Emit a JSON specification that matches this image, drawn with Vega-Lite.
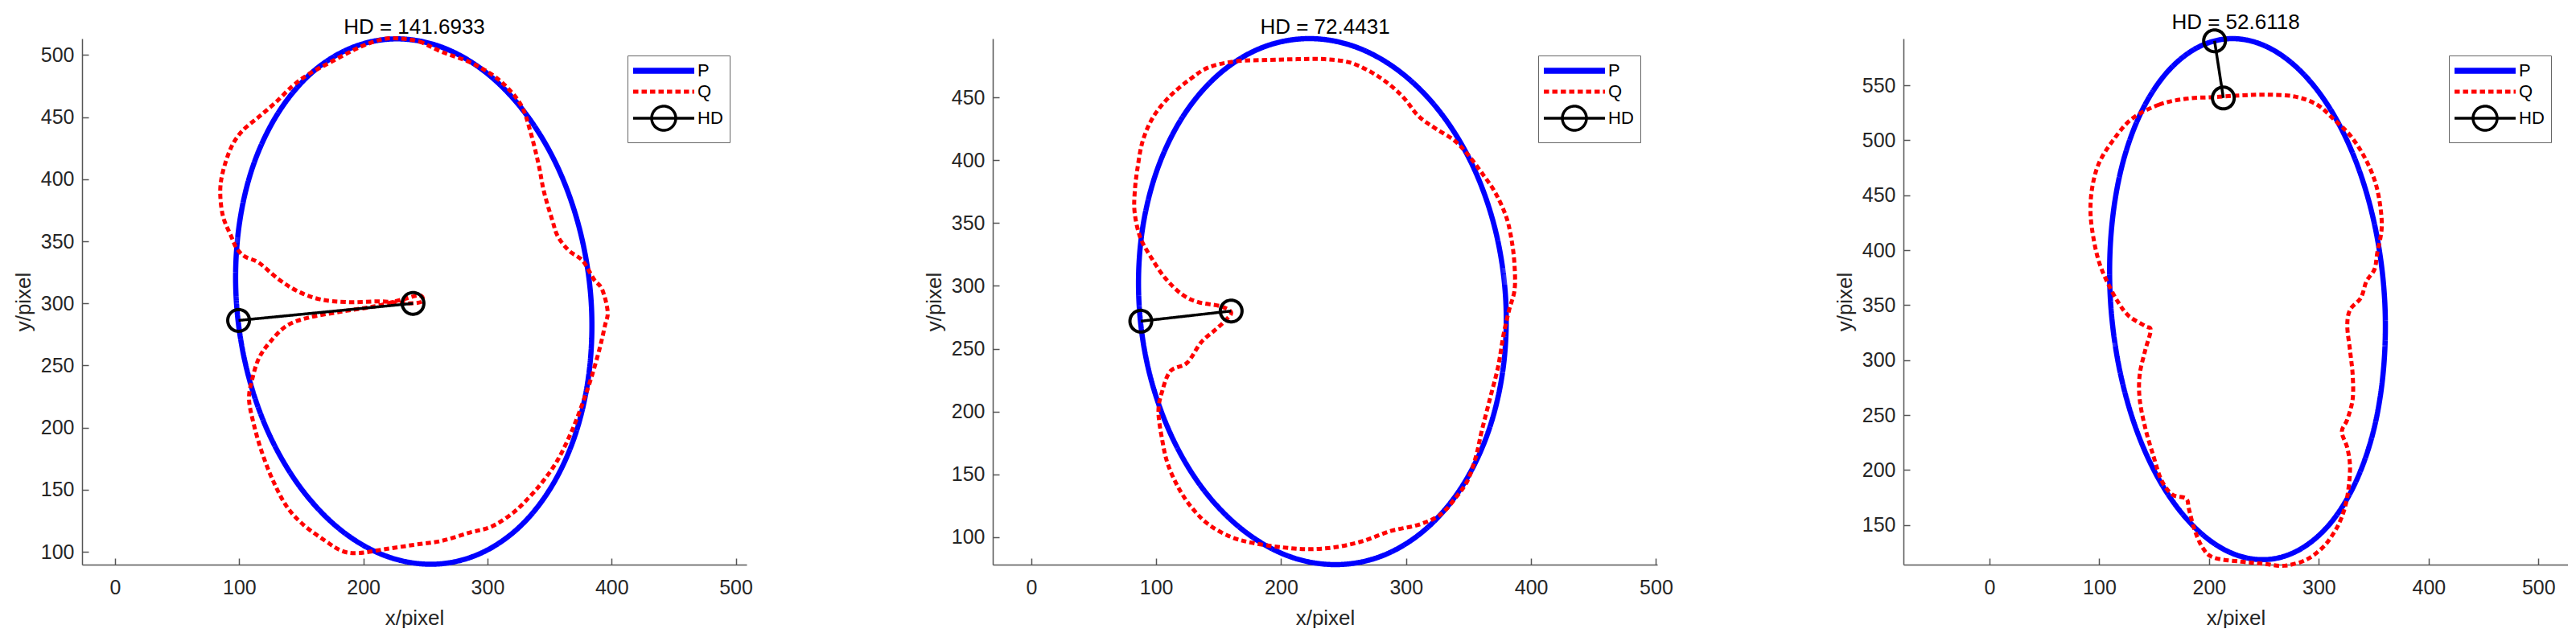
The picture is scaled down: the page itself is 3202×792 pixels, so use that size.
{
"$schema": "https://vega.github.io/schema/vega-lite/v6.json",
"padding": {"left": 16, "top": 15, "right": 0, "bottom": 0},
"bounds": "flush",
"spacing": 306,
"datasets": {
"p1": [
{"s":"P","i":0,"x":383.5,"y":301.5},{"s":"P","i":1,"x":375.1,"y":356.2},{"s":"P","i":2,"x":357.6,"y":407.3},{"s":"P","i":3,"x":332.0,"y":451.1},{"s":"P","i":4,"x":300.3,"y":484.7},{"s":"P","i":5,"x":264.5,"y":505.8},{"s":"P","i":6,"x":227.0,"y":513.0},{"s":"P","i":7,"x":190.5,"y":505.8},{"s":"P","i":8,"x":157.3,"y":484.7},{"s":"P","i":9,"x":130.0,"y":451.1},{"s":"P","i":10,"x":110.0,"y":407.3},{"s":"P","i":11,"x":99.1,"y":356.2},{"s":"P","i":12,"x":97.7,"y":301.5},{"s":"P","i":13,"x":106.1,"y":246.8},{"s":"P","i":14,"x":123.6,"y":195.8},{"s":"P","i":15,"x":149.2,"y":151.9},{"s":"P","i":16,"x":180.9,"y":118.3},{"s":"P","i":17,"x":216.7,"y":97.2},{"s":"P","i":18,"x":254.2,"y":90.0},{"s":"P","i":19,"x":290.7,"y":97.2},{"s":"P","i":20,"x":323.9,"y":118.3},{"s":"P","i":21,"x":351.2,"y":151.9},{"s":"P","i":22,"x":371.2,"y":195.8},{"s":"P","i":23,"x":382.1,"y":246.8},
{"s":"Q","i":1,"x":227.4,"y":513.4},{"s":"Q","i":2,"x":245,"y":510.8},{"s":"Q","i":3,"x":263,"y":502.6},{"s":"Q","i":4,"x":285.3,"y":494.4},{"s":"Q","i":5,"x":303,"y":484.6},{"s":"Q","i":6,"x":316.5,"y":473.2},{"s":"Q","i":7,"x":327.7,"y":458.5},{"s":"Q","i":8,"x":334.4,"y":438.9},{"s":"Q","i":9,"x":341,"y":412.7},{"s":"Q","i":10,"x":345.5,"y":389.9},{"s":"Q","i":11,"x":352.2,"y":367},{"s":"Q","i":12,"x":356.7,"y":353.9},{"s":"Q","i":13,"x":365.6,"y":342.5},{"s":"Q","i":14,"x":376.7,"y":334.3},{"s":"Q","i":15,"x":385.6,"y":319.6},{"s":"Q","i":16,"x":392.3,"y":311.4},{"s":"Q","i":17,"x":396.8,"y":293.5},{"s":"Q","i":18,"x":394.6,"y":282},{"s":"Q","i":19,"x":390,"y":262.4},{"s":"Q","i":20,"x":383.4,"y":239.5},{"s":"Q","i":21,"x":376.7,"y":219.9},{"s":"Q","i":22,"x":367.8,"y":197},{"s":"Q","i":23,"x":356.7,"y":174.2},{"s":"Q","i":24,"x":345.5,"y":157.8},{"s":"Q","i":25,"x":334.4,"y":144.8},{"s":"Q","i":26,"x":321,"y":131.7},{"s":"Q","i":27,"x":303.2,"y":120.3},{"s":"Q","i":28,"x":285.3,"y":115.4},{"s":"Q","i":29,"x":263,"y":108.8},{"s":"Q","i":30,"x":240.7,"y":105.6},{"s":"Q","i":31,"x":218.5,"y":102.3},{"s":"Q","i":32,"x":196.2,"y":99},{"s":"Q","i":33,"x":182.8,"y":100.7},{"s":"Q","i":34,"x":169.4,"y":108.8},{"s":"Q","i":35,"x":151.6,"y":121.9},{"s":"Q","i":36,"x":138.2,"y":136.6},{"s":"Q","i":37,"x":127,"y":157.8},{"s":"Q","i":38,"x":118.1,"y":180.7},{"s":"Q","i":39,"x":111.5,"y":203.6},{"s":"Q","i":40,"x":107.9,"y":223.2},{"s":"Q","i":41,"x":110.6,"y":239.5},{"s":"Q","i":42,"x":115.9,"y":255.9},{"s":"Q","i":43,"x":124.8,"y":268.9},{"s":"Q","i":44,"x":138.2,"y":282},{"s":"Q","i":45,"x":156,"y":288.6},{"s":"Q","i":46,"x":182.8,"y":293.5},{"s":"Q","i":47,"x":209.5,"y":297.7},{"s":"Q","i":48,"x":231.8,"y":303.3},{"s":"Q","i":49,"x":245.2,"y":306.5},{"s":"Q","i":50,"x":247.4,"y":301.6},{"s":"Q","i":51,"x":236.3,"y":300},{"s":"Q","i":52,"x":214,"y":301.6},{"s":"Q","i":53,"x":187.3,"y":301},{"s":"Q","i":54,"x":165,"y":303.3},{"s":"Q","i":55,"x":147.1,"y":309.8},{"s":"Q","i":56,"x":131.5,"y":319.6},{"s":"Q","i":57,"x":115.9,"y":332.7},{"s":"Q","i":58,"x":104.8,"y":337.6},{"s":"Q","i":59,"x":98.1,"y":344.1},{"s":"Q","i":60,"x":93.6,"y":353.9},{"s":"Q","i":61,"x":86.9,"y":370.3},{"s":"Q","i":62,"x":84.7,"y":389.9},{"s":"Q","i":63,"x":86.9,"y":406.2},{"s":"Q","i":64,"x":93.6,"y":425.8},{"s":"Q","i":65,"x":102.5,"y":438.9},{"s":"Q","i":66,"x":115.9,"y":450.3},{"s":"Q","i":67,"x":129.3,"y":461.8},{"s":"Q","i":68,"x":142.7,"y":474.8},{"s":"Q","i":69,"x":156,"y":484.6},{"s":"Q","i":70,"x":173.9,"y":494.4},{"s":"Q","i":71,"x":196.2,"y":505.9},{"s":"Q","i":72,"x":214,"y":512.4},
{"s":"HD","i":0,"x":99.5,"y":286.3},{"s":"HD","i":1,"x":240,"y":300}
],
"p2": [
{"s":"P","i":0,"x":379.8,"y":287.5},{"s":"P","i":1,"x":372.1,"y":341.7},{"s":"P","i":2,"x":354.9,"y":392.3},{"s":"P","i":3,"x":329.4,"y":435.6},{"s":"P","i":4,"x":297.3,"y":468.9},{"s":"P","i":5,"x":260.9,"y":489.9},{"s":"P","i":6,"x":222.5,"y":497},{"s":"P","i":7,"x":184.9,"y":489.9},{"s":"P","i":8,"x":150.5,"y":468.9},{"s":"P","i":9,"x":121.8,"y":435.6},{"s":"P","i":10,"x":100.7,"y":392.3},{"s":"P","i":11,"x":88.5,"y":341.7},{"s":"P","i":12,"x":86.2,"y":287.5},{"s":"P","i":13,"x":93.9,"y":233.3},{"s":"P","i":14,"x":111.2,"y":182.8},{"s":"P","i":15,"x":136.6,"y":139.4},{"s":"P","i":16,"x":168.7,"y":106.1},{"s":"P","i":17,"x":205.1,"y":85.1},{"s":"P","i":18,"x":243.5,"y":78},{"s":"P","i":19,"x":281.1,"y":85.1},{"s":"P","i":20,"x":315.5,"y":106.1},{"s":"P","i":21,"x":344.2,"y":139.4},{"s":"P","i":22,"x":365.4,"y":182.8},{"s":"P","i":23,"x":377.5,"y":233.3},
{"s":"Q","i":1,"x":142.3,"y":474.2},{"s":"Q","i":2,"x":164.3,"y":479},{"s":"Q","i":3,"x":190.7,"y":480},{"s":"Q","i":4,"x":212.8,"y":480.6},{"s":"Q","i":5,"x":234.8,"y":480.6},{"s":"Q","i":6,"x":256.8,"y":477.4},{"s":"Q","i":7,"x":278.9,"y":466.1},{"s":"Q","i":8,"x":296.5,"y":451.6},{"s":"Q","i":9,"x":309.7,"y":435.5},{"s":"Q","i":10,"x":322.9,"y":425.8},{"s":"Q","i":11,"x":338.3,"y":416.1},{"s":"Q","i":12,"x":349.3,"y":404.8},{"s":"Q","i":13,"x":360.4,"y":390.3},{"s":"Q","i":14,"x":371.4,"y":374.2},{"s":"Q","i":15,"x":380.2,"y":354.8},{"s":"Q","i":16,"x":384.6,"y":335.5},{"s":"Q","i":17,"x":386.8,"y":316.1},{"s":"Q","i":18,"x":386.8,"y":296.8},{"s":"Q","i":19,"x":382.4,"y":280.6},{"s":"Q","i":20,"x":378,"y":261.3},{"s":"Q","i":21,"x":373.6,"y":235.5},{"s":"Q","i":22,"x":367,"y":209.7},{"s":"Q","i":23,"x":360.4,"y":183.9},{"s":"Q","i":24,"x":356,"y":164.5},{"s":"Q","i":25,"x":349.3,"y":145.2},{"s":"Q","i":26,"x":340.5,"y":132.3},{"s":"Q","i":27,"x":327.3,"y":117.7},{"s":"Q","i":28,"x":309.7,"y":109.7},{"s":"Q","i":29,"x":287.7,"y":104.8},{"s":"Q","i":30,"x":265.6,"y":96.8},{"s":"Q","i":31,"x":243.6,"y":91.9},{"s":"Q","i":32,"x":221.6,"y":90.3},{"s":"Q","i":33,"x":199.6,"y":91.9},{"s":"Q","i":34,"x":177.5,"y":95.2},{"s":"Q","i":35,"x":159.9,"y":100},{"s":"Q","i":36,"x":142.3,"y":109.7},{"s":"Q","i":37,"x":129.1,"y":122.6},{"s":"Q","i":38,"x":118.1,"y":138.7},{"s":"Q","i":39,"x":109.3,"y":158.1},{"s":"Q","i":40,"x":104.8,"y":177.4},{"s":"Q","i":41,"x":101.8,"y":200},{"s":"Q","i":42,"x":104.8,"y":216.1},{"s":"Q","i":43,"x":111.5,"y":232.3},{"s":"Q","i":44,"x":124.7,"y":238.7},{"s":"Q","i":45,"x":135.7,"y":254.8},{"s":"Q","i":46,"x":146.7,"y":264.5},{"s":"Q","i":47,"x":155.5,"y":272.6},{"s":"Q","i":48,"x":159.9,"y":279},{"s":"Q","i":49,"x":151.1,"y":283.9},{"s":"Q","i":50,"x":133.5,"y":287.1},{"s":"Q","i":51,"x":120.3,"y":293.5},{"s":"Q","i":52,"x":107,"y":306.5},{"s":"Q","i":53,"x":96,"y":322.6},{"s":"Q","i":54,"x":87.2,"y":338.7},{"s":"Q","i":55,"x":82.8,"y":358.1},{"s":"Q","i":56,"x":82.8,"y":374.2},{"s":"Q","i":57,"x":85,"y":393.5},{"s":"Q","i":58,"x":89.4,"y":416.1},{"s":"Q","i":59,"x":98.2,"y":435.5},{"s":"Q","i":60,"x":111.5,"y":451.6},{"s":"Q","i":61,"x":126.9,"y":464.5},
{"s":"HD","i":0,"x":87.7,"y":271.9},{"s":"HD","i":1,"x":160,"y":280}
],
"p3": [
{"s":"P","i":0,"x":359.9,"y":355.5},{"s":"P","i":1,"x":352.1,"y":416.8},{"s":"P","i":2,"x":336.3,"y":474},{"s":"P","i":3,"x":313.6,"y":523.1},{"s":"P","i":4,"x":285.6,"y":560.7},{"s":"P","i":5,"x":254.1,"y":584.4},{"s":"P","i":6,"x":221.3,"y":592.5},{"s":"P","i":7,"x":189.5,"y":584.4},{"s":"P","i":8,"x":160.7,"y":560.7},{"s":"P","i":9,"x":137,"y":523.1},{"s":"P","i":10,"x":120,"y":474},{"s":"P","i":11,"x":110.9,"y":416.8},{"s":"P","i":12,"x":110.1,"y":355.5},{"s":"P","i":13,"x":117.9,"y":294.2},{"s":"P","i":14,"x":133.7,"y":237},{"s":"P","i":15,"x":156.4,"y":187.9},{"s":"P","i":16,"x":184.5,"y":150.3},{"s":"P","i":17,"x":215.9,"y":126.6},{"s":"P","i":18,"x":248.7,"y":118.5},{"s":"P","i":19,"x":280.5,"y":126.6},{"s":"P","i":20,"x":309.4,"y":150.3},{"s":"P","i":21,"x":333,"y":187.9},{"s":"P","i":22,"x":350.1,"y":237},{"s":"P","i":23,"x":359.1,"y":294.2},
{"s":"Q","i":1,"x":129.4,"y":519.3},{"s":"Q","i":2,"x":154.2,"y":532.3},{"s":"Q","i":3,"x":179.1,"y":537.8},{"s":"Q","i":4,"x":204,"y":539.3},{"s":"Q","i":5,"x":228.9,"y":540.8},{"s":"Q","i":6,"x":253.7,"y":541.5},{"s":"Q","i":7,"x":278.6,"y":539.7},{"s":"Q","i":8,"x":298.5,"y":532.3},{"s":"Q","i":9,"x":313.4,"y":519.3},{"s":"Q","i":10,"x":328.4,"y":504.6},{"s":"Q","i":11,"x":340.8,"y":486.1},{"s":"Q","i":12,"x":350.7,"y":464},{"s":"Q","i":13,"x":355.7,"y":441.8},{"s":"Q","i":14,"x":357.2,"y":419.6},{"s":"Q","i":15,"x":353.2,"y":397.5},{"s":"Q","i":16,"x":350.7,"y":382.7},{"s":"Q","i":17,"x":343.3,"y":371.6},{"s":"Q","i":18,"x":338.3,"y":356.8},{"s":"Q","i":19,"x":328.4,"y":345.7},{"s":"Q","i":20,"x":325.9,"y":331},{"s":"Q","i":21,"x":328.4,"y":308.8},{"s":"Q","i":22,"x":330.8,"y":286.7},{"s":"Q","i":23,"x":330.8,"y":264.5},{"s":"Q","i":24,"x":325.9,"y":246},{"s":"Q","i":25,"x":320.9,"y":234.9},{"s":"Q","i":26,"x":325.9,"y":220.2},{"s":"Q","i":27,"x":328.4,"y":201.7},{"s":"Q","i":28,"x":325.9,"y":175.8},{"s":"Q","i":29,"x":320.9,"y":157.3},{"s":"Q","i":30,"x":313.4,"y":142.5},{"s":"Q","i":31,"x":303.5,"y":129.6},{"s":"Q","i":32,"x":288.6,"y":118.5},{"s":"Q","i":33,"x":268.7,"y":113},{"s":"Q","i":34,"x":248.8,"y":114.9},{"s":"Q","i":35,"x":228.9,"y":116.7},{"s":"Q","i":36,"x":204,"y":120.4},{"s":"Q","i":37,"x":194,"y":129.6},{"s":"Q","i":38,"x":186.6,"y":146.3},{"s":"Q","i":39,"x":181.6,"y":164.8},{"s":"Q","i":40,"x":179.1,"y":174},{"s":"Q","i":41,"x":166.7,"y":177.7},{"s":"Q","i":42,"x":156.7,"y":190.6},{"s":"Q","i":43,"x":149.3,"y":212.8},{"s":"Q","i":44,"x":141.8,"y":238.6},{"s":"Q","i":45,"x":136.8,"y":264.5},{"s":"Q","i":46,"x":136.8,"y":286.7},{"s":"Q","i":47,"x":141.8,"y":308.8},{"s":"Q","i":48,"x":146.8,"y":327.3},{"s":"Q","i":49,"x":141.8,"y":331},{"s":"Q","i":50,"x":126.9,"y":340.2},{"s":"Q","i":51,"x":116.9,"y":353.2},{"s":"Q","i":52,"x":107,"y":371.6},{"s":"Q","i":53,"x":99.5,"y":390.1},{"s":"Q","i":54,"x":94.5,"y":412.2},{"s":"Q","i":55,"x":92,"y":434.4},{"s":"Q","i":56,"x":93.5,"y":456.6},{"s":"Q","i":57,"x":99.5,"y":478.7},{"s":"Q","i":58,"x":111.9,"y":499.1},
{"s":"HD","i":0,"x":205,"y":590.5},{"s":"HD","i":1,"x":213,"y":538.5}
]
},
"hconcat": [
{
"width": 826, "height": 654,
"title": "HD = 141.6933",
"encoding": {
"x": {"field": "x", "type": "quantitative", "scale": {"domain": [-26.6, 508.7], "nice": false, "zero": false}, "axis": {"values": [0,100,200,300,400,500], "title": "x/pixel"}},
"y": {"field": "y", "type": "quantitative", "scale": {"domain": [89.7, 513.2], "nice": false, "zero": false}, "axis": {"values": [100,150,200,250,300,350,400,450,500], "title": "y/pixel"}},
"order": {"field": "i", "type": "quantitative"},
"color": {"field": "s", "type": "nominal", "scale": {"domain": ["P","Q","HD"], "range": ["#0000ff","#ff0000","#000000"]}, "legend": {"title": null, "encode": {"symbols": {"update": {"shape": {"signal": "datum.value === 'HD' ? 'M-1,0H5.33M3.417,0A1.25,1.25 0 1 1 0.917,0A1.25,1.25 0 1 1 3.417,0' : 'M-1,0H5.33'"}, "strokeWidth": {"signal": "datum.value === 'P' ? 7.5 : datum.value === 'Q' ? 5 : 3.5"}, "fill": {"value": "transparent"}}}}}},
"strokeDash": {"field": "s", "type": "nominal", "scale": {"domain": ["P","Q","HD"], "range": [[1,0],[6.5,4],[1,0]]}, "legend": {"title": null}}
},
"layer": [
{"data": {"name": "p1"}, "transform": [{"filter": "datum.s === 'P'"}], "mark": {"type": "line", "interpolate": "cardinal-closed", "strokeWidth": 6.5}},
{"data": {"name": "p1"}, "transform": [{"filter": "datum.s === 'Q'"}], "mark": {"type": "line", "interpolate": "cardinal-closed", "strokeWidth": 5}},
{"data": {"name": "p1"}, "transform": [{"filter": "datum.s === 'HD'"}], "mark": {"type": "line", "strokeWidth": 3.5}},
{"data": {"name": "p1"}, "transform": [{"filter": "datum.s === 'HD'"}], "mark": {"type": "point", "shape": "circle", "filled": false, "size": 730, "strokeWidth": 4, "opacity": 1}, "encoding": {"strokeDash": {"value": [1,0]}}}
]
},
{
"width": 826, "height": 654,
"title": "HD = 72.4431",
"encoding": {
"x": {"field": "x", "type": "quantitative", "scale": {"domain": [-30.8, 501], "nice": false, "zero": false}, "axis": {"values": [0,100,200,300,400,500], "title": "x/pixel"}},
"y": {"field": "y", "type": "quantitative", "scale": {"domain": [78, 497], "nice": false, "zero": false}, "axis": {"values": [100,150,200,250,300,350,400,450], "title": "y/pixel"}},
"order": {"field": "i", "type": "quantitative"},
"color": {"field": "s", "type": "nominal", "scale": {"domain": ["P","Q","HD"], "range": ["#0000ff","#ff0000","#000000"]}, "legend": {"title": null, "encode": {"symbols": {"update": {"shape": {"signal": "datum.value === 'HD' ? 'M-1,0H5.33M3.417,0A1.25,1.25 0 1 1 0.917,0A1.25,1.25 0 1 1 3.417,0' : 'M-1,0H5.33'"}, "strokeWidth": {"signal": "datum.value === 'P' ? 7.5 : datum.value === 'Q' ? 5 : 3.5"}, "fill": {"value": "transparent"}}}}}},
"strokeDash": {"field": "s", "type": "nominal", "scale": {"domain": ["P","Q","HD"], "range": [[1,0],[6.5,4],[1,0]]}, "legend": {"title": null}}
},
"layer": [
{"data": {"name": "p2"}, "transform": [{"filter": "datum.s === 'P'"}], "mark": {"type": "line", "interpolate": "cardinal-closed", "strokeWidth": 6.5}},
{"data": {"name": "p2"}, "transform": [{"filter": "datum.s === 'Q'"}], "mark": {"type": "line", "interpolate": "cardinal-closed", "strokeWidth": 5}},
{"data": {"name": "p2"}, "transform": [{"filter": "datum.s === 'HD'"}], "mark": {"type": "line", "strokeWidth": 3.5}},
{"data": {"name": "p2"}, "transform": [{"filter": "datum.s === 'HD'"}], "mark": {"type": "point", "shape": "circle", "filled": false, "size": 730, "strokeWidth": 4, "opacity": 1}, "encoding": {"strokeDash": {"value": [1,0]}}}
]
},
{
"width": 826, "height": 654,
"title": "HD = 52.6118",
"encoding": {
"x": {"field": "x", "type": "quantitative", "scale": {"domain": [-78.4, 526.9], "nice": false, "zero": false}, "axis": {"values": [0,100,200,300,400,500], "title": "x/pixel"}},
"y": {"field": "y", "type": "quantitative", "scale": {"domain": [114, 592.5], "nice": false, "zero": false}, "axis": {"values": [150,200,250,300,350,400,450,500,550], "title": "y/pixel"}},
"order": {"field": "i", "type": "quantitative"},
"color": {"field": "s", "type": "nominal", "scale": {"domain": ["P","Q","HD"], "range": ["#0000ff","#ff0000","#000000"]}, "legend": {"title": null, "encode": {"symbols": {"update": {"shape": {"signal": "datum.value === 'HD' ? 'M-1,0H5.33M3.417,0A1.25,1.25 0 1 1 0.917,0A1.25,1.25 0 1 1 3.417,0' : 'M-1,0H5.33'"}, "strokeWidth": {"signal": "datum.value === 'P' ? 7.5 : datum.value === 'Q' ? 5 : 3.5"}, "fill": {"value": "transparent"}}}}}},
"strokeDash": {"field": "s", "type": "nominal", "scale": {"domain": ["P","Q","HD"], "range": [[1,0],[6.5,4],[1,0]]}, "legend": {"title": null}}
},
"layer": [
{"data": {"name": "p3"}, "transform": [{"filter": "datum.s === 'P'"}], "mark": {"type": "line", "interpolate": "cardinal-closed", "strokeWidth": 6.5}},
{"data": {"name": "p3"}, "transform": [{"filter": "datum.s === 'Q'"}], "mark": {"type": "line", "interpolate": "cardinal-closed", "strokeWidth": 5}},
{"data": {"name": "p3"}, "transform": [{"filter": "datum.s === 'HD'"}], "mark": {"type": "line", "strokeWidth": 3.5}},
{"data": {"name": "p3"}, "transform": [{"filter": "datum.s === 'HD'"}], "mark": {"type": "point", "shape": "circle", "filled": false, "size": 730, "strokeWidth": 4, "opacity": 1}, "encoding": {"strokeDash": {"value": [1,0]}}}
]
}
],
"resolve": {"scale": {"color": "independent", "strokeDash": "independent"}, "legend": {"color": "independent", "strokeDash": "independent"}},
"config": {
"view": {"stroke": null},
"font": "Liberation Sans",
"background": "white",
"axis": {"grid": false, "domainColor": "#555555", "domainWidth": 1.5, "tickColor": "#555555", "tickWidth": 1.5, "tickSize": -8, "labelFontSize": 25, "labelColor": "#262626", "titleFontSize": 26, "titleFontWeight": "normal", "titleColor": "#262626"},
"axisX": {"labelPadding": 24, "titlePadding": 12},
"axisY": {"labelPadding": 18, "titlePadding": 8},
"title": {"fontSize": 26, "fontWeight": "normal", "color": "#000000", "frame": "group", "offset": 9, "baseline": "alphabetic", "dy": 21},
"legend": {"orient": "top-right", "offset": 21, "padding": 8, "strokeColor": "#666666", "fillColor": "white", "labelFontSize": 22, "labelColor": "#000000", "symbolSize": 576, "symbolStrokeWidth": 5, "labelOffset": 57, "rowPadding": 0, "symbolType": "stroke", "symbolOpacity": 1}
}
}
